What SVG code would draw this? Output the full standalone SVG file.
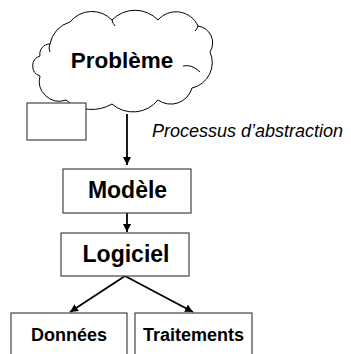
<svg xmlns="http://www.w3.org/2000/svg" width="351" height="354" viewBox="0 0 351 354">
<defs>
<style>
.box{fill:#fff;stroke:#444;stroke-width:1.2}
.lbl{font-family:"Liberation Sans",Arial,sans-serif;font-weight:bold;fill:#000;text-anchor:middle}
.edge{stroke:#000;stroke-width:1.8;fill:none}
.cloud{fill:#fff;stroke:#000;stroke-width:1}
</style>
<marker id="ah" viewBox="0 0 8 8" refX="8" refY="4" markerWidth="8" markerHeight="8" markerUnits="userSpaceOnUse" orient="auto">
<path d="M0,0 L8,4 L0,8 Z" fill="#000"/>
</marker>
</defs>
<rect width="351" height="354" fill="#fff"/>
<g id="probleme">
<path class="cloud" d="M50,44 A28 28 0 0 1 70,22 A28 28 0 0 1 112,20 A32 32 0 0 1 158,20 A24 24 0 0 1 198,26 A17 17 0 0 1 210,52 A26 26 0 0 1 192,88 A22 22 0 0 1 158,100 A32 32 0 0 1 112,104 A40 40 0 0 1 66,100 A20 20 0 0 1 40,76 A10.5 10.5 0 0 1 40,56 A10 10 0 0 1 50,44 Z"/>
<path d="M183,66 Q192,64 200,72 M50,44 Q48,48 50,52 M112,20 Q113,24 115,26 M198,26 Q197,29 195,31" fill="none" stroke="#000" stroke-width="1"/>
<text class="lbl" x="122" y="68" font-size="22.5">Problème</text>
</g>
<g id="petit-cadre">
<rect class="box" x="27" y="103" width="59" height="37"/>
</g>
<g id="connecteurs">
<line class="edge" x1="127" y1="114" x2="127" y2="165" marker-end="url(#ah)"/>
<line class="edge" x1="127" y1="213" x2="127" y2="232" marker-end="url(#ah)"/>
<line class="edge" x1="125" y1="276" x2="70" y2="312" marker-end="url(#ah)"/>
<line class="edge" x1="125" y1="276" x2="193" y2="312" marker-end="url(#ah)"/>
<text x="152" y="137" font-family="'Liberation Sans',Arial,sans-serif" font-style="italic" font-size="18" fill="#000">Processus d’abstraction</text>
</g>
<g id="modele">
<rect class="box" x="63" y="169" width="128" height="44"/>
<text class="lbl" x="127.5" y="197.5" font-size="23">Modèle</text>
</g>
<g id="logiciel">
<rect class="box" x="61" y="233" width="128" height="43"/>
<text class="lbl" x="126" y="262" font-size="23">Logiciel</text>
</g>
<g id="donnees">
<rect class="box" x="11" y="313" width="116" height="50"/>
<text class="lbl" x="69" y="341" font-size="18">Données</text>
</g>
<g id="traitements">
<rect class="box" x="135" y="313" width="117" height="50"/>
<text class="lbl" x="193.5" y="341" font-size="18">Traitements</text>
</g>
</svg>
